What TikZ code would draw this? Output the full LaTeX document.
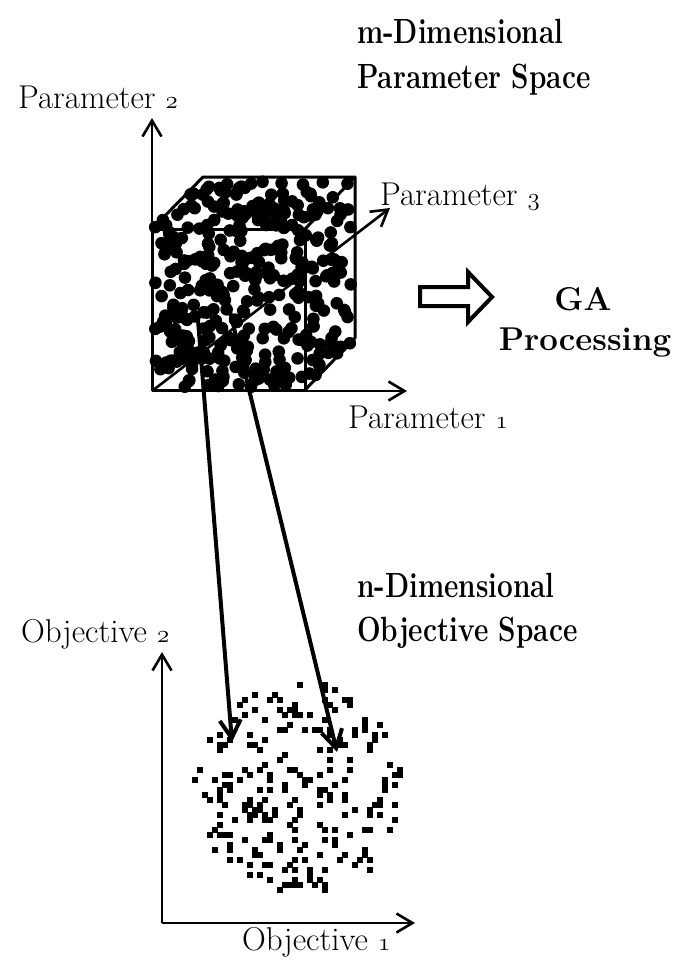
\documentclass[tikz,border=0pt]{standalone}
\usetikzlibrary{arrows.meta}
\begin{document}
\begin{tikzpicture}[x=1pt,y=-1pt,
  lbl/.style={inner sep=0pt, anchor=base west, font=\fontsize{33}{38}\selectfont},
  ttl/.style={inner sep=0pt, anchor=base west, xscale=0.8, transform shape, font=\bfseries\fontsize{35}{40}\selectfont},
  gattl/.style={inner sep=0pt, anchor=base, font=\bfseries\fontsize{33}{40}\selectfont},
  axis/.style={line width=2.6pt, -{Straight Barb[length=16pt,width=19pt]}},
  mapline/.style={line width=4pt, -{Straight Barb[length=18pt,width=21pt]}},
  cubeedge/.style={line width=3pt, line join=round},
  blockarrow/.style={line width=4pt, line join=miter}
]
\useasboundingbox (0,0) rectangle (691,962);
\fill[white] (0,0) rectangle (691,962);

% titles
\node[ttl] (t1a) at (357,43) {m-Dimensional};
\node[ttl] (t1b) at (357,88) {Parameter Space};
\node[ttl] (t2a) at (357,597) {n-Dimensional};
\node[ttl] (t2b) at (357,641) {Objective Space};
\node[gattl] (ga1) at (583,310) {GA};
\node[gattl] (ga2) at (585,350) {Processing};

% axis labels
\node[lbl] (p2) at (18,108) {Parameter $\mathnormal{2}$};
\node[lbl] (p3) at (380,205) {Parameter $\mathnormal{3}$};
\node[lbl] (p1) at (348,428) {Parameter $\mathnormal{1}$};
\node[lbl] (o2) at (21,642) {Objective $\mathnormal{2}$};
\node[lbl] (o1) at (242,950) {Objective $\mathnormal{1}$};

% parameter axes
\coordinate (po) at (152,391);
\coordinate (p2tip) at (152,118);
\coordinate (p1tip) at (407,391);
\coordinate (p3tip) at (390,208);
\draw[axis] (po) -- (p2tip);
\draw[axis] (po) -- (p1tip);
\draw[axis] (po) -- (p3tip);

% cube
\coordinate (c1) at (152,229);
\coordinate (c2) at (305,229);
\coordinate (c3) at (305,390);
\coordinate (c4) at (152,390);
\coordinate (c5) at (203,177);
\coordinate (c6) at (355,177);
\coordinate (c7) at (355,338);
\draw[cubeedge] (c1) -- (c2) -- (c3) -- (c4) -- cycle;
\draw[cubeedge] (c1) -- (c5) -- (c6) -- (c2);
\draw[cubeedge] (c6) -- (c7) -- (c3);

% dots in parameter space (uniform over the cube's outline)
\pgfmathsetseed{7}
\foreach \i in {1,...,400}{
  \pgfmathsetmacro\px{154+199*rnd}
  \pgfmathsetmacro\py{180+207*rnd}
  \pgfmathtruncatemacro\ok{(\py>=229-(\px-152)*1.0196) && (\py<=390-(\px-305)*1.04)}
  \ifnum\ok=1 \fill (\px,\py) circle[radius=6.3pt];\fi
}

% block arrow
\draw[blockarrow] (420,287) -- (468,287) -- (468,272) -- (492,297) -- (468,322) -- (468,306) -- (420,306) -- cycle;

% objective axes
\coordinate (oo) at (162,923);
\coordinate (o2tip) at (162,652);
\coordinate (o1tip) at (415,923);
\draw[axis] (oo) -- (o2tip);
\draw[axis] (oo) -- (o1tip);

% squares in objective space
\pgfmathsetseed{21}
\foreach \i in {1,...,240}{
  \pgfmathsetmacro\rr{sqrt(rnd)}
  \pgfmathsetmacro\aa{360*rnd}
  \pgfmathsetmacro\qx{5*round((300+104*\rr*cos(\aa))/5)}
  \pgfmathsetmacro\qy{5*round((788+108*\rr*sin(\aa))/5)}
  \fill ({\qx-3.4},{\qy-3.4}) rectangle ({\qx+3.4},{\qy+3.4});
}

% mapping connectors
\coordinate (ma) at (198,320);
\coordinate (mb) at (228,303);
\coordinate (na) at (232,742);
\coordinate (nb) at (337,752);
\draw[mapline] (ma) -- (na);
\draw[mapline] (mb) -- (nb);
\end{tikzpicture}
\end{document}
